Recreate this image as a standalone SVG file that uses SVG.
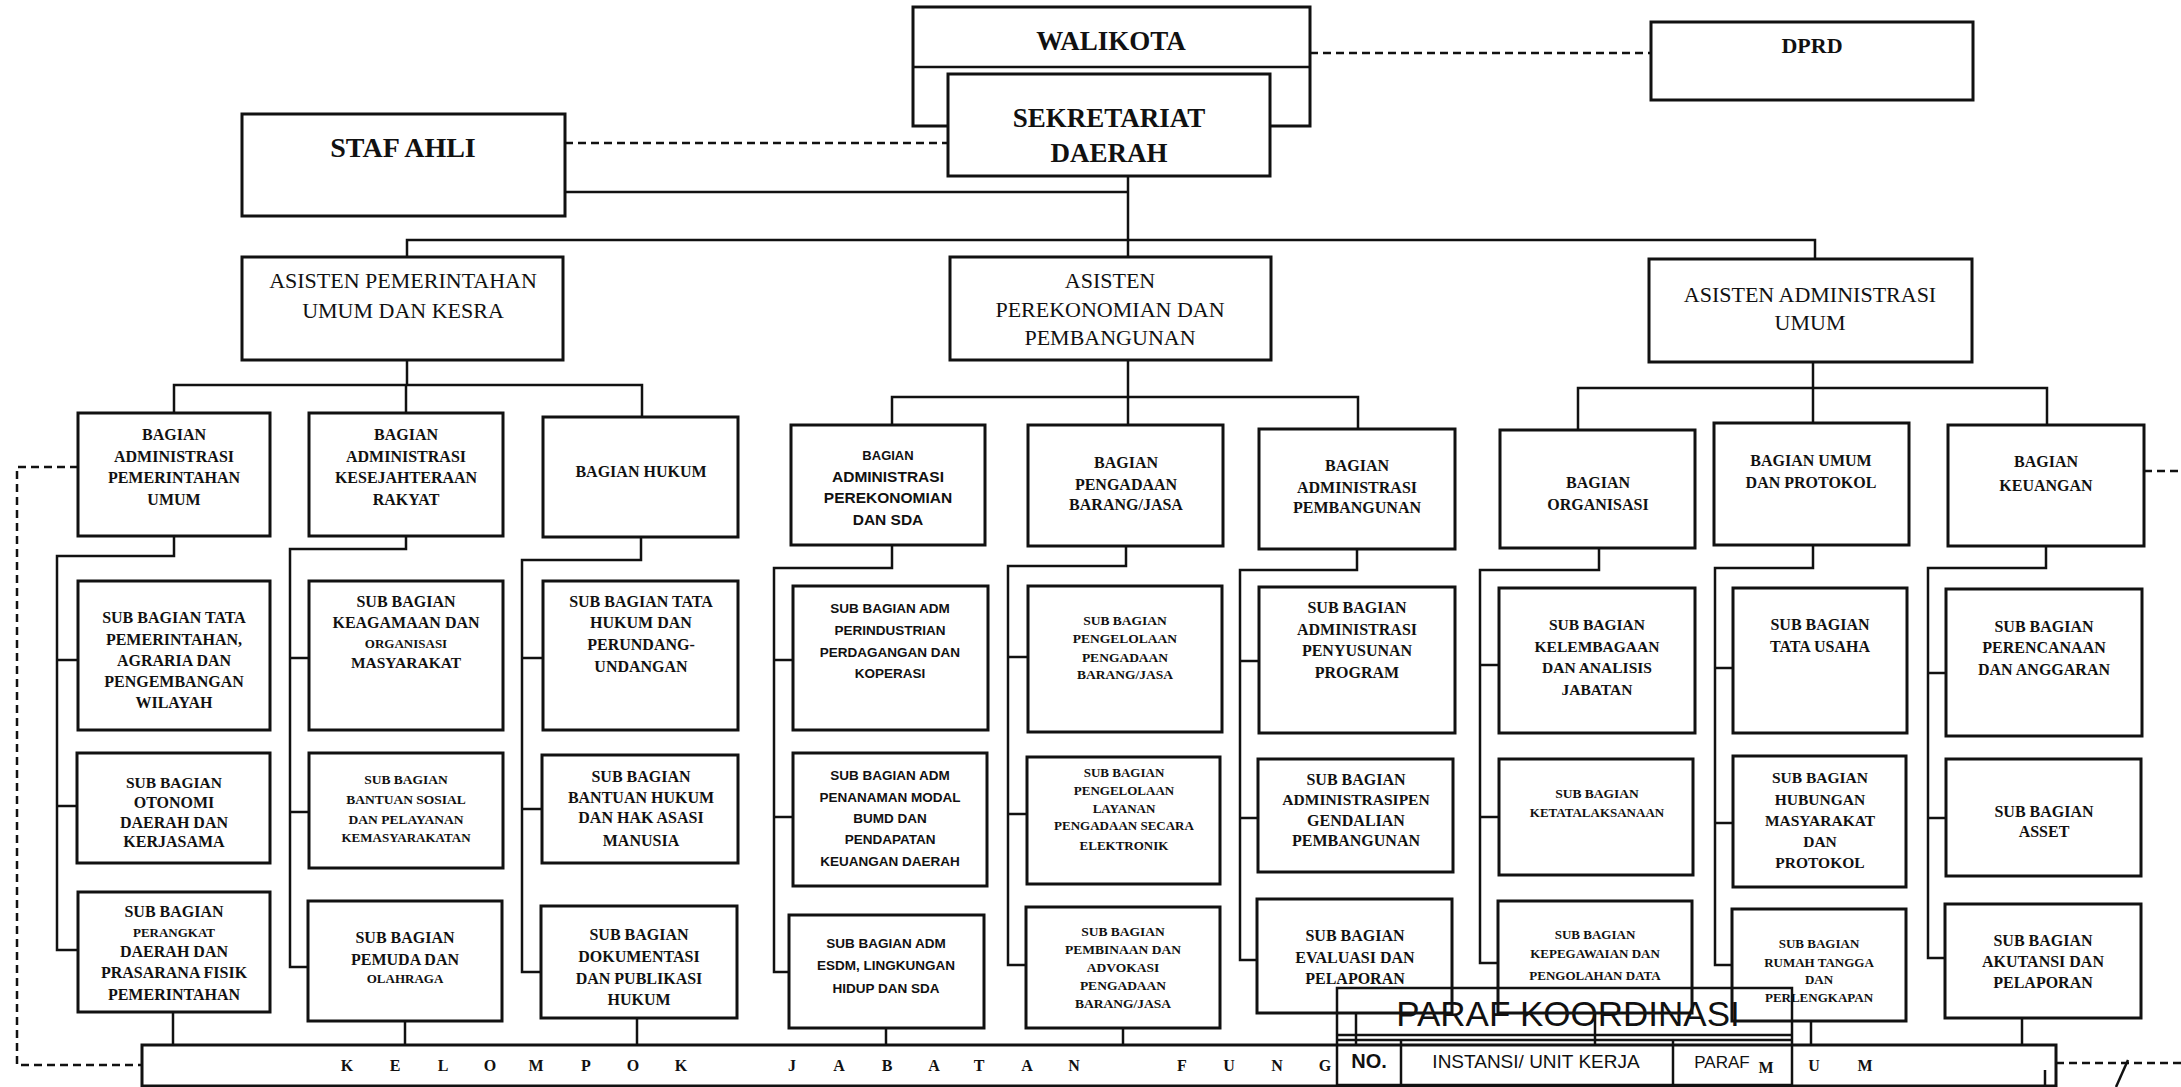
<svg xmlns="http://www.w3.org/2000/svg" width="2181" height="1087" viewBox="0 0 2181 1087">
<style>
.box{fill:#fff;stroke:#111;stroke-width:3}
.ln{fill:none;stroke:#111;stroke-width:2.5}
.dash{fill:none;stroke:#111;stroke-width:2.5;stroke-dasharray:8 5}
.st{fill:none;stroke:#111;stroke-width:2.5}
text{font-family:"Liberation Serif",serif;text-anchor:middle;fill:#111;font-weight:bold}
.r{font-weight:normal}
.sn{font-family:"Liberation Sans",sans-serif}
.f13{font-size:13px}.f135{font-size:13.5px}.f15{font-size:15.5px}.f16{font-size:16px}.f22{font-size:22px}
.big{font-size:27px}.band{font-size:16px}
</style>
<rect width="2181" height="1087" fill="#fff"/>
<g id="connectors">
<line class="dash" x1="1310" y1="53" x2="1651" y2="53"/>
<line class="dash" x1="565" y1="143" x2="948" y2="143"/>
<polyline class="ln" points="565,192 1128,192"/>
<line class="ln" x1="1128" y1="176" x2="1128" y2="257"/>
<polyline class="ln" points="407,257 407,240 1815,240 1815,259"/>
<line class="ln" x1="407" y1="360" x2="407" y2="385"/>
<polyline class="ln" points="174,413 174,385 642,385 642,417"/>
<line class="ln" x1="406" y1="385" x2="406" y2="413"/>
<line class="ln" x1="1128" y1="360" x2="1128" y2="425"/>
<polyline class="ln" points="892,425 892,397 1358,397 1358,429"/>
<line class="ln" x1="1813" y1="362" x2="1813" y2="423"/>
<polyline class="ln" points="1578,430 1578,388 2047,388 2047,425"/>
<polyline class="ln" points="174,536 174,556 57,556 57,950 78,950"/>
<line class="ln" x1="57" y1="660" x2="78" y2="660"/><line class="ln" x1="57" y1="806" x2="77" y2="806"/>
<polyline class="ln" points="406,536 406,549 290,549 290,967 308,967"/>
<line class="ln" x1="290" y1="658" x2="309" y2="658"/><line class="ln" x1="290" y1="812" x2="309" y2="812"/>
<polyline class="ln" points="641,537 641,560 522,560 522,972 541,972"/>
<line class="ln" x1="522" y1="658" x2="543" y2="658"/><line class="ln" x1="522" y1="809" x2="542" y2="809"/>
<polyline class="ln" points="892,545 892,568 774,568 774,972 789,972"/>
<line class="ln" x1="774" y1="660" x2="793" y2="660"/><line class="ln" x1="774" y1="817" x2="793" y2="817"/>
<polyline class="ln" points="1126,546 1126,566 1008,566 1008,965 1026,965"/>
<line class="ln" x1="1008" y1="657" x2="1028" y2="657"/><line class="ln" x1="1008" y1="814" x2="1027" y2="814"/>
<polyline class="ln" points="1357,549 1357,570 1240,570 1240,960 1257,960"/>
<line class="ln" x1="1240" y1="661" x2="1259" y2="661"/><line class="ln" x1="1240" y1="818" x2="1258" y2="818"/>
<polyline class="ln" points="1599,548 1599,570 1480,570 1480,963 1498,963"/>
<line class="ln" x1="1480" y1="665" x2="1499" y2="665"/><line class="ln" x1="1480" y1="817" x2="1499" y2="817"/>
<polyline class="ln" points="1813,545 1813,568 1715,568 1715,965 1732,965"/>
<line class="ln" x1="1715" y1="668" x2="1733" y2="668"/><line class="ln" x1="1715" y1="823" x2="1733" y2="823"/>
<polyline class="ln" points="2046,546 2046,568 1928,568 1928,958 1945,958"/>
<line class="ln" x1="1928" y1="673" x2="1946" y2="673"/><line class="ln" x1="1928" y1="818" x2="1946" y2="818"/>
<line class="ln" x1="173" y1="1012" x2="173" y2="1045"/>
<line class="ln" x1="405" y1="1021" x2="405" y2="1050"/>
<line class="ln" x1="637" y1="1018" x2="637" y2="1045"/>
<line class="ln" x1="886" y1="1028" x2="886" y2="1050"/>
<line class="ln" x1="1123" y1="1028" x2="1123" y2="1062"/>
<line class="ln" x1="1356" y1="1013" x2="1356" y2="1045"/>
<line class="ln" x1="1595" y1="1013" x2="1595" y2="1045"/>
<line class="ln" x1="1811" y1="1021" x2="1811" y2="1045"/>
<line class="ln" x1="2022" y1="1018" x2="2022" y2="1045"/>
<polyline class="dash" points="78,467 17,467 17,1065 142,1065"/>
<line class="dash" x1="2144" y1="471" x2="2181" y2="471"/>
<line class="dash" x1="2056" y1="1063" x2="2181" y2="1063"/>
<line class="ln" x1="2128" y1="1060" x2="2116" y2="1087"/>
</g>
<g id="walikota"><rect class="box" x="913" y="7" width="397" height="119"/><line class="ln" x1="913" y1="67" x2="1310" y2="67"/><text class="big" x="1111" y="50">WALIKOTA</text></g>
<g id="sekda"><rect class="box" x="948" y="74" width="322" height="102"/><text class="big" x="1109" y="127">SEKRETARIAT</text><text class="big" x="1109" y="162">DAERAH</text></g>
<g id="staf-ahli"><rect class="box" x="242" y="114" width="323" height="102"/><text x="403" y="157" style="font-size:28px">STAF AHLI</text></g>
<g id="dprd"><rect class="box" x="1651" y="22" width="322" height="78"/><text x="1812" y="53" style="font-size:22px">DPRD</text></g>
<g id="asisten-pemerintahan" class="r"><rect class="box" x="242" y="257" width="321" height="103"/><text class="r f22" x="403" y="288">ASISTEN PEMERINTAHAN</text><text class="r f22" x="403" y="318">UMUM DAN KESRA</text></g>
<g id="asisten-perekonomian"><rect class="box" x="950" y="257" width="321" height="103"/><text class="r f22" x="1110" y="288">ASISTEN</text><text class="r f22" x="1110" y="317">PEREKONOMIAN DAN</text><text class="r f22" x="1110" y="345">PEMBANGUNAN</text></g>
<g id="asisten-administrasi"><rect class="box" x="1649" y="259" width="323" height="103"/><text class="r f22" x="1810" y="302">ASISTEN ADMINISTRASI</text><text class="r f22" x="1810" y="330">UMUM</text></g>

<g id="bagian-pemerintahan"><rect class="box" x="78" y="413" width="192" height="123"/><text class="f16" x="174" y="440">BAGIAN</text><text class="f16" x="174" y="462">ADMINISTRASI</text><text class="f16" x="174" y="483">PEMERINTAHAN</text><text class="f16" x="174" y="505">UMUM</text></g>
<g id="bagian-kesra"><rect class="box" x="309" y="413" width="194" height="123"/><text class="f16" x="406" y="440">BAGIAN</text><text class="f16" x="406" y="462">ADMINISTRASI</text><text class="f16" x="406" y="483">KESEJAHTERAAN</text><text class="f16" x="406" y="505">RAKYAT</text></g>
<g id="bagian-hukum"><rect class="box" x="543" y="417" width="195" height="120"/><text class="f16" x="641" y="477">BAGIAN HUKUM</text></g>
<g id="bagian-perekonomian"><rect class="box" x="791" y="425" width="194" height="120"/><text class="sn f13" x="888" y="460">BAGIAN</text><text class="sn f15" x="888" y="482">ADMINISTRASI</text><text class="sn f15" x="888" y="503">PEREKONOMIAN</text><text class="sn f15" x="888" y="525">DAN SDA</text></g>
<g id="bagian-pengadaan"><rect class="box" x="1028" y="425" width="195" height="121"/><text class="f16" x="1126" y="468">BAGIAN</text><text class="f16" x="1126" y="490">PENGADAAN</text><text class="f16" x="1126" y="510">BARANG/JASA</text></g>
<g id="bagian-pembangunan"><rect class="box" x="1259" y="429" width="196" height="120"/><text class="f16" x="1357" y="471">BAGIAN</text><text class="f16" x="1357" y="493">ADMINISTRASI</text><text class="f16" x="1357" y="513">PEMBANGUNAN</text></g>
<g id="bagian-organisasi"><rect class="box" x="1500" y="430" width="195" height="118"/><text class="f16" x="1598" y="488">BAGIAN</text><text class="f16" x="1598" y="510">ORGANISASI</text></g>
<g id="bagian-umum"><rect class="box" x="1714" y="423" width="195" height="122"/><text class="f16" x="1811" y="466">BAGIAN UMUM</text><text class="f16" x="1811" y="488">DAN PROTOKOL</text></g>
<g id="bagian-keuangan"><rect class="box" x="1948" y="425" width="196" height="121"/><text class="f16" x="2046" y="467">BAGIAN</text><text class="f16" x="2046" y="491">KEUANGAN</text></g>

<g id="sub-tata-pemerintahan"><rect class="box" x="78" y="581" width="192" height="149"/><text class="f16" x="174" y="623">SUB BAGIAN TATA</text><text class="f16" x="174" y="645">PEMERINTAHAN,</text><text class="f16" x="174" y="666">AGRARIA DAN</text><text class="f16" x="174" y="687">PENGEMBANGAN</text><text class="f16" x="174" y="708">WILAYAH</text></g>
<g id="sub-otonomi"><rect class="box" x="77" y="753" width="193" height="110"/><text class="f15" x="174" y="788">SUB BAGIAN</text><text class="f16" x="174" y="808">OTONOMI</text><text class="f16" x="174" y="828">DAERAH DAN</text><text class="f16" x="174" y="847">KERJASAMA</text></g>
<g id="sub-perangkat"><rect class="box" x="78" y="892" width="192" height="120"/><text class="f16" x="174" y="917">SUB BAGIAN</text><text class="f13" x="174" y="937">PERANGKAT</text><text class="f16" x="174" y="957">DAERAH DAN</text><text class="f16" x="174" y="978">PRASARANA FISIK</text><text class="f16" x="174" y="1000">PEMERINTAHAN</text></g>

<g id="sub-keagamaan"><rect class="box" x="309" y="581" width="194" height="149"/><text class="f16" x="406" y="607">SUB BAGIAN</text><text class="f16" x="406" y="628">KEAGAMAAN DAN</text><text class="f13" x="406" y="648">ORGANISASI</text><text class="f15" x="406" y="668">MASYARAKAT</text></g>
<g id="sub-bantuan-sosial"><rect class="box" x="309" y="753" width="194" height="115"/><text class="f135" x="406" y="784">SUB BAGIAN</text><text class="f135" x="406" y="804">BANTUAN SOSIAL</text><text class="f135" x="406" y="824">DAN PELAYANAN</text><text class="f13" x="406" y="842">KEMASYARAKATAN</text></g>
<g id="sub-pemuda"><rect class="box" x="308" y="901" width="194" height="120"/><text class="f16" x="405" y="943">SUB BAGIAN</text><text class="f16" x="405" y="965">PEMUDA DAN</text><text class="f13" x="405" y="983">OLAHRAGA</text></g>

<g id="sub-tata-hukum"><rect class="box" x="543" y="581" width="195" height="149"/><text class="f16" x="641" y="607">SUB BAGIAN TATA</text><text class="f16" x="641" y="628">HUKUM DAN</text><text class="f16" x="641" y="650">PERUNDANG-</text><text class="f16" x="641" y="672">UNDANGAN</text></g>
<g id="sub-bantuan-hukum"><rect class="box" x="542" y="755" width="196" height="108"/><text class="f16" x="641" y="782">SUB BAGIAN</text><text class="f16" x="641" y="803">BANTUAN HUKUM</text><text class="f16" x="641" y="823">DAN HAK ASASI</text><text class="f16" x="641" y="846">MANUSIA</text></g>
<g id="sub-dokumentasi"><rect class="box" x="541" y="906" width="196" height="112"/><text class="f16" x="639" y="940">SUB BAGIAN</text><text class="f16" x="639" y="962">DOKUMENTASI</text><text class="f16" x="639" y="984">DAN PUBLIKASI</text><text class="f16" x="639" y="1005">HUKUM</text></g>

<g id="sub-perindustrian"><rect class="box" x="793" y="586" width="195" height="144"/><text class="sn f135" x="890" y="613">SUB BAGIAN ADM</text><text class="sn f135" x="890" y="635">PERINDUSTRIAN</text><text class="sn f135" x="890" y="657">PERDAGANGAN DAN</text><text class="sn f135" x="890" y="678">KOPERASI</text></g>
<g id="sub-penanaman-modal"><rect class="box" x="793" y="753" width="194" height="133"/><text class="sn f135" x="890" y="780">SUB BAGIAN ADM</text><text class="sn f135" x="890" y="802">PENANAMAN MODAL</text><text class="sn f135" x="890" y="823">BUMD DAN</text><text class="sn f135" x="890" y="844">PENDAPATAN</text><text class="sn f135" x="890" y="866">KEUANGAN DAERAH</text></g>
<g id="sub-esdm"><rect class="box" x="789" y="915" width="195" height="113"/><text class="sn f135" x="886" y="948">SUB BAGIAN ADM</text><text class="sn f135" x="886" y="970">ESDM, LINGKUNGAN</text><text class="sn f135" x="886" y="993">HIDUP DAN SDA</text></g>

<g id="sub-pengelolaan-pengadaan"><rect class="box" x="1028" y="586" width="194" height="146"/><text class="f135" x="1125" y="625">SUB BAGIAN</text><text class="f135" x="1125" y="643">PENGELOLAAN</text><text class="f135" x="1125" y="662">PENGADAAN</text><text class="f135" x="1125" y="679">BARANG/JASA</text></g>
<g id="sub-lpse"><rect class="box" x="1027" y="757" width="193" height="127"/><text class="f13" x="1124" y="777">SUB BAGIAN</text><text class="f13" x="1124" y="795">PENGELOLAAN</text><text class="f13" x="1124" y="813">LAYANAN</text><text class="f13" x="1124" y="830">PENGADAAN SECARA</text><text class="f13" x="1124" y="850">ELEKTRONIK</text></g>
<g id="sub-pembinaan"><rect class="box" x="1026" y="907" width="194" height="121"/><text class="f135" x="1123" y="936">SUB BAGIAN</text><text class="f135" x="1123" y="954">PEMBINAAN DAN</text><text class="f135" x="1123" y="972">ADVOKASI</text><text class="f135" x="1123" y="990">PENGADAAN</text><text class="f135" x="1123" y="1008">BARANG/JASA</text></g>

<g id="sub-penyusunan-program"><rect class="box" x="1259" y="587" width="196" height="146"/><text class="f16" x="1357" y="613">SUB BAGIAN</text><text class="f16" x="1357" y="635">ADMINISTRASI</text><text class="f16" x="1357" y="656">PENYUSUNAN</text><text class="f16" x="1357" y="678">PROGRAM</text></g>
<g id="sub-pengendalian"><rect class="box" x="1258" y="759" width="195" height="113"/><text class="f16" x="1356" y="785">SUB BAGIAN</text><text class="f15" x="1356" y="805">ADMINISTRASIPEN</text><text class="f16" x="1356" y="826">GENDALIAN</text><text class="f16" x="1356" y="846">PEMBANGUNAN</text></g>
<g id="sub-evaluasi"><rect class="box" x="1257" y="899" width="195" height="114"/><text class="f16" x="1355" y="941">SUB BAGIAN</text><text class="f16" x="1355" y="963">EVALUASI DAN</text><text class="f16" x="1355" y="984">PELAPORAN</text></g>

<g id="sub-kelembagaan"><rect class="box" x="1499" y="588" width="196" height="145"/><text class="f15" x="1597" y="630">SUB BAGIAN</text><text class="f15" x="1597" y="652">KELEMBAGAAN</text><text class="f15" x="1597" y="673">DAN ANALISIS</text><text class="f15" x="1597" y="695">JABATAN</text></g>
<g id="sub-ketatalaksanaan"><rect class="box" x="1499" y="759" width="194" height="116"/><text class="f135" x="1597" y="798">SUB BAGIAN</text><text class="f13" x="1597" y="817">KETATALAKSANAAN</text></g>
<g id="sub-kepegawaian"><rect class="box" x="1498" y="901" width="194" height="112"/><text class="f13" x="1595" y="939">SUB BAGIAN</text><text class="f13" x="1595" y="958">KEPEGAWAIAN DAN</text><text class="f13" x="1595" y="980">PENGOLAHAN DATA</text></g>

<g id="sub-tata-usaha"><rect class="box" x="1733" y="588" width="174" height="145"/><text class="f16" x="1820" y="630">SUB BAGIAN</text><text class="f16" x="1820" y="652">TATA USAHA</text></g>
<g id="sub-humas"><rect class="box" x="1733" y="756" width="173" height="131"/><text class="f15" x="1820" y="783">SUB BAGIAN</text><text class="f15" x="1820" y="805">HUBUNGAN</text><text class="f15" x="1820" y="826">MASYARAKAT</text><text class="f15" x="1820" y="847">DAN</text><text class="f15" x="1820" y="868">PROTOKOL</text></g>
<g id="sub-rumah-tangga"><rect class="box" x="1732" y="909" width="174" height="112"/><text class="f13" x="1819" y="948">SUB BAGIAN</text><text class="f13" x="1819" y="967">RUMAH TANGGA</text><text class="f13" x="1819" y="984">DAN</text><text class="f13" x="1819" y="1002">PERLENGKAPAN</text></g>

<g id="sub-perencanaan"><rect class="box" x="1946" y="589" width="196" height="147"/><text class="f16" x="2044" y="632">SUB BAGIAN</text><text class="f16" x="2044" y="653">PERENCANAAN</text><text class="f16" x="2044" y="675">DAN ANGGARAN</text></g>
<g id="sub-asset"><rect class="box" x="1946" y="759" width="195" height="117"/><text class="f16" x="2044" y="817">SUB BAGIAN</text><text class="f16" x="2044" y="837">ASSET</text></g>
<g id="sub-akuntansi"><rect class="box" x="1945" y="904" width="196" height="114"/><text class="f16" x="2043" y="946">SUB BAGIAN</text><text class="f16" x="2043" y="967">AKUTANSI DAN</text><text class="f16" x="2043" y="988">PELAPORAN</text></g>

<g id="kelompok-jabatan-fungsional">
<rect class="box" x="142" y="1045" width="1914" height="41"/>
<line class="ln" x1="2045" y1="1070" x2="2045" y2="1087"/>
<text class="band" x="347 395 443 490 536 586 633 681" y="1071">KELOMPOK</text>
<text class="band" x="792 839 887 934 979 1027 1074" y="1071">JABATAN</text>
<text class="band" x="1182 1229 1277 1325" y="1071">FUNG</text>
<text class="band" x="1766" y="1073">M</text>
<text class="band" x="1814 1865" y="1071">UM</text>
</g>
<g id="paraf-koordinasi">
<rect class="st" x="1337" y="988" width="455" height="97"/>
<line class="st" x1="1337" y1="1035" x2="1792" y2="1035"/>
<line class="st" x1="1337" y1="1040" x2="1792" y2="1040"/>
<line class="st" x1="1401" y1="1040" x2="1401" y2="1085"/>
<line class="st" x1="1673" y1="1040" x2="1673" y2="1085"/>
<text class="sn" x="1568" y="1026" style="font-size:35px;font-weight:normal">PARAF KOORDINASI</text>
<text class="sn" x="1369" y="1068" style="font-size:20px">NO.</text>
<text class="sn" x="1536" y="1068" style="font-size:19px;font-weight:normal">INSTANSI/ UNIT KERJA</text>
<text class="sn" x="1722" y="1068" style="font-size:17px;font-weight:normal">PARAF</text>
</g>
</svg>
